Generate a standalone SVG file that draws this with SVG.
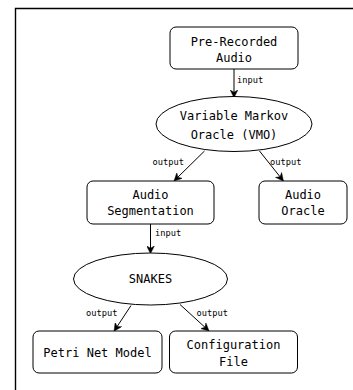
<svg xmlns="http://www.w3.org/2000/svg" width="353" height="390" viewBox="0 0 353 390">
<defs>
<marker id="arr" viewBox="0 0 10 10" refX="9" refY="5" markerWidth="8" markerHeight="8" markerUnits="userSpaceOnUse" orient="auto">
<path d="M0,0 L10,5 L0,10 L3,5 Z" fill="#000" stroke="#000" stroke-width="0.5"/>
</marker>
</defs>
<style>
.n{fill:#fff;stroke:#000;stroke-width:1}
.t{font-family:"DejaVu Sans Mono","Liberation Mono",monospace;font-size:12px;fill:#000;text-anchor:middle}
.l{font-family:"DejaVu Sans Mono","Liberation Mono",monospace;font-size:8.7px;fill:#000}
.e{stroke:#000;stroke-width:1;fill:none;marker-end:url(#arr)}
</style>
<rect x="0" y="0" width="353" height="390" fill="#fff"/>
<path d="M15.5,400 V8.5 H360" fill="none" stroke="#000" stroke-width="1.4"/>
<g id="connectors">
<path class="e" d="M234,69 V97"/>
<text class="l" x="237" y="83">input</text>
<path class="e" d="M204.5,151 L174.5,180.5"/>
<text class="l" x="152.5" y="164.5">output</text>
<path class="e" d="M259.5,151 L283,180.5"/>
<text class="l" x="270" y="164.5">output</text>
<path class="e" d="M150.5,224 V253"/>
<text class="l" x="155" y="236">input</text>
<path class="e" d="M131,305.5 L114.5,330.5"/>
<text class="l" x="86" y="316">output</text>
<path class="e" d="M180,304.5 L208.5,330.5"/>
<text class="l" x="196.5" y="316">output</text>
</g>
<g id="pre-recorded">
<rect class="n" x="170" y="27" width="128" height="42" rx="6"/>
<text class="t" x="234" y="46">Pre-Recorded</text>
<text class="t" x="234" y="62">Audio</text>
</g>
<g id="vmo">
<ellipse class="n" cx="234" cy="124" rx="78" ry="27.5"/>
<text class="t" x="234" y="120">Variable Markov</text>
<text class="t" x="234" y="139">Oracle (VMO)</text>
</g>
<g id="audio-segmentation">
<rect class="n" x="87" y="181" width="127" height="43" rx="6"/>
<text class="t" x="150.5" y="199">Audio</text>
<text class="t" x="150.5" y="215">Segmentation</text>
</g>
<g id="audio-oracle">
<rect class="n" x="259" y="181" width="88" height="43" rx="6"/>
<text class="t" x="303" y="199">Audio</text>
<text class="t" x="303" y="215">Oracle</text>
</g>
<g id="snakes">
<ellipse class="n" cx="150.5" cy="279" rx="77" ry="26"/>
<text class="t" x="150.5" y="283">SNAKES</text>
</g>
<g id="petri-net-model">
<rect class="n" x="33" y="331" width="129" height="42" rx="6"/>
<text class="t" x="97.5" y="357">Petri Net Model</text>
</g>
<g id="configuration-file">
<rect class="n" x="169.5" y="331" width="128" height="42" rx="6"/>
<text class="t" x="233.5" y="349">Configuration</text>
<text class="t" x="233.5" y="365.5">File</text>
</g>
</svg>
